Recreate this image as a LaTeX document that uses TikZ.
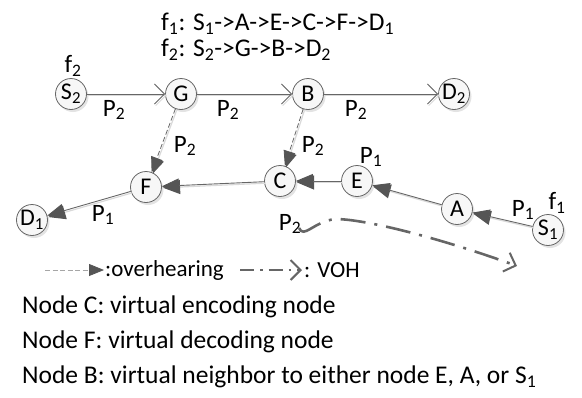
\documentclass[tikz,border=0pt]{standalone}
\usepackage{fontspec}
\setmainfont{Carlito}
\usetikzlibrary{arrows.meta,shadows}
\newcommand\ssub[1]{\textsubscript{#1}}
\definecolor{edgegray}{HTML}{666666}
\definecolor{headgray}{HTML}{555555}
\definecolor{nodefill}{HTML}{F7F7F7}
\tikzset{
  vnode/.style={circle, draw=edgegray, line width=0.8pt, fill=nodefill,
    minimum size=31pt, inner sep=0pt, font=\fontsize{24}{26}\selectfont,
    drop shadow={opacity=0.22, shadow xshift=2pt, shadow yshift=-2.5pt}},
  lbl/.style={inner sep=0pt, font=\fontsize{25}{29}\selectfont},
  txt/.style={inner sep=0pt, anchor=west, font=\fontsize{25.5}{30}\selectfont},
  legtxt/.style={txt, font=\fontsize{23}{27}\selectfont},
  eshade/.style={preaction={draw=gray!30, line width=1.2pt,
    transform canvas={xshift=1.2pt, yshift=-1.5pt}}},
  flowone/.style={draw=edgegray, line width=0.9pt,
    -{Triangle[length=17pt,width=14pt,fill=headgray,color=headgray]}},
  flowtwo/.style={draw=edgegray, line width=0.9pt,
    -{Straight Barb[length=10pt,width=20pt,line width=0.9pt]}},
  overhear/.style={draw=edgegray, line width=0.8pt, dash pattern=on 5pt off 2.5pt,
    -{Triangle[length=15pt,width=12pt,fill=headgray,color=headgray]}},
  voh/.style={draw=headgray!90, line width=2.6pt, line cap=butt,
    dash pattern=on 25pt off 9pt on 3pt off 9pt,
    -{Straight Barb[length=10pt,width=20pt,line width=2pt]}},
}
\begin{document}
\begin{tikzpicture}[x=1pt,y=-1pt]
\useasboundingbox (0,0) rectangle (582,397);

% flow descriptions
\node[txt] (t1) at (161,24) {f\ssub{1}: S\ssub{1}->A->E->C->F->D\ssub{1}};
\node[txt] (t2) at (161,50) {f\ssub{2}: S\ssub{2}->G->B->D\ssub{2}};

% nodes
\node[vnode] (S2) at (71,94) {S\ssub{2}};
\node[vnode] (G)  at (181,94) {G};
\node[vnode] (B)  at (308,94) {B};
\node[vnode] (D2) at (454,94) {D\ssub{2}};
\node[vnode] (F)  at (146,187) {F};
\node[vnode] (C)  at (280,181) {C};
\node[vnode] (E)  at (357,181) {E};
\node[vnode] (A)  at (457,209) {A};
\node[vnode] (S1) at (548,230) {S\ssub{1}};
\node[vnode] (D1) at (32,220) {D\ssub{1}};

% flow f2
\draw[flowtwo, eshade] (S2) -- (G);
\draw[flowtwo, eshade] (G) -- (B);
\draw[flowtwo, eshade] (B) -- (D2);

% flow f1
\draw[flowone, eshade] (S1) -- (A);
\draw[flowone, eshade] (A) -- (E);
\draw[flowone, eshade] (E) -- (C);
\draw[flowone, eshade] (C) -- (F);
\draw[flowone, eshade] (F) -- (D1);

% overhearing links
\draw[overhear, eshade] (G) -- (F);
\draw[overhear, eshade] (B) -- (C);

% virtual overhearing
\coordinate (vohS) at (299,228);
\coordinate (vohM) at (335,219);
\coordinate (vohE) at (517,266);
\draw[voh] (vohS) .. controls (304,239) and (313,222) .. (vohM)
  .. controls (365,219) and (440,238) .. (vohE);

% labels
\node[lbl] (lf2) at (73,66) {f\ssub{2}};
\node[lbl] (l1) at (114,110) {P\ssub{2}};
\node[lbl] (l2) at (228,110) {P\ssub{2}};
\node[lbl] (l3) at (356,110) {P\ssub{2}};
\node[lbl] (l4) at (185,146) {P\ssub{2}};
\node[lbl] (l5) at (313,146) {P\ssub{2}};
\node[lbl] (l6) at (371,157) {P\ssub{1}};
\node[lbl] (l7) at (523,210) {P\ssub{1}};
\node[lbl] (lf1) at (557,203) {f\ssub{1}};
\node[lbl] (l8) at (103,215) {P\ssub{1}};
\node[lbl] (l9) at (290,224) {P\ssub{2}};

% legend
\coordinate (lgA) at (45,270);
\coordinate (lgB) at (104,270);
\draw[overhear, draw=gray!70] (lgA) -- (lgB);
\node[legtxt] (lgT1) at (105,270) {:overhearing};
\coordinate (lgC) at (240,270);
\coordinate (lgD) at (302,270);
\draw[voh, line width=2.2pt, dash pattern=on 14pt off 6pt on 2.5pt off 6pt] (lgC) -- (lgD);
\node[legtxt] (lgT2) at (304,270) {: VOH};

\node[txt] (n1) at (22,307) {Node C: virtual encoding node};
\node[txt] (n2) at (22,342) {Node F: virtual decoding node};
\node[txt] (n3) at (22,377) {Node B: virtual neighbor to either node E, A, or S\ssub{1}};
\end{tikzpicture}
\end{document}
